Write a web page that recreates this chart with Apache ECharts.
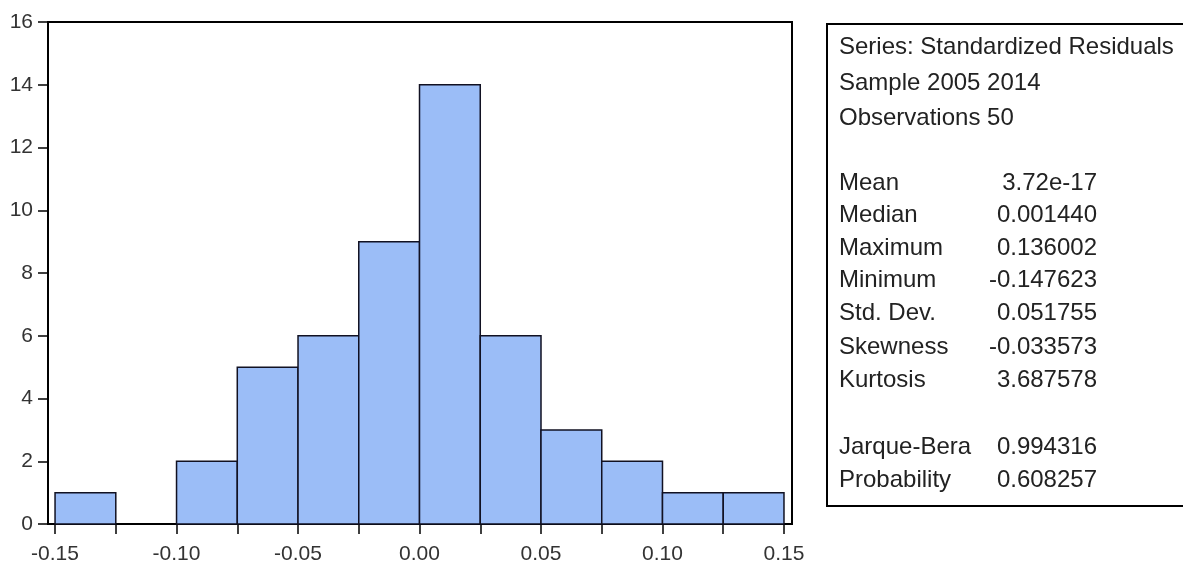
<!DOCTYPE html>
<html>
<head>
<meta charset="utf-8">
<script src="https://cdn.jsdelivr.net/npm/echarts@6/dist/echarts.min.js"></script>
<style>html,body{margin:0;padding:0;background:#fff;}#c{width:1183px;height:568px;}</style>
</head>
<body>
<div id="c"></div>
<script>
// Histogram bins (left edge, right edge) and counts
var binStarts = [-0.15, -0.125, -0.10, -0.075, -0.05, -0.025, 0.0, 0.025, 0.05, 0.075, 0.10, 0.125];
var binEnds   = [-0.125, -0.10, -0.075, -0.05, -0.025, 0.0, 0.025, 0.05, 0.075, 0.10, 0.125, 0.15];
var counts    = [1, 0, 2, 5, 6, 9, 14, 6, 3, 2, 1, 1];
var xTickValues  = [-0.15, -0.125, -0.10, -0.075, -0.05, -0.025, 0.0, 0.025, 0.05, 0.075, 0.10, 0.125, 0.15];
var xLabelValues = [-0.15, -0.10, -0.05, 0.0, 0.05, 0.10, 0.15];
var yTickValues  = [0, 2, 4, 6, 8, 10, 12, 14, 16];
var headerLines  = ["Series: Standardized Residuals", "Sample 2005 2014", "Observations 50"];
var statLabels   = ["Mean", "Median", "Maximum", "Minimum", "Std. Dev.", "Skewness", "Kurtosis"];
var statValues   = ["3.72e-17", "0.001440", "0.136002", "-0.147623", "0.051755", "-0.033573", "3.687578"];
var testLabels   = ["Jarque-Bera", "Probability"];
var testValues   = ["0.994316", "0.608257"];

var FONT = '"Liberation Sans", Arial, sans-serif';
var data = binStarts.map(function (s, i) { return [s, binEnds[i], counts[i]]; });

var graphics = [];
graphics.push({
  type: 'rect', left: 826, top: 23, z: 1,
  shape: { width: 380, height: 482 },
  style: { fill: '#fff', stroke: '#000', lineWidth: 2 }
});
function addText(txt, x, y, align) {
  graphics.push({
    type: 'text', x: x, y: y, z: 2,
    style: { text: txt, fill: '#222', font: '24px ' + FONT, textAlign: align, textVerticalAlign: 'middle' }
  });
}
var headerY = [47, 83, 118];
headerLines.forEach(function (t, i) { addText(t, 839, headerY[i], 'left'); });
var statY = [183, 215, 248, 280, 313, 347, 380];
statLabels.forEach(function (t, i) { addText(t, 839, statY[i], 'left'); addText(statValues[i], 1097, statY[i], 'right'); });
var testY = [447, 480];
testLabels.forEach(function (t, i) { addText(t, 839, testY[i], 'left'); addText(testValues[i], 1097, testY[i], 'right'); });

var chart = echarts.init(document.getElementById('c'), null, { renderer: 'canvas' });
chart.setOption({
  animation: false,
  backgroundColor: '#fff',
  grid: { left: 48, right: 391, top: 22, bottom: 44, show: true, borderColor: '#000', borderWidth: 2, backgroundColor: 'transparent' },
  xAxis: {
    type: 'value', min: -0.1529, max: 0.1533, position: 'bottom',
    axisLine: { show: false, onZero: false },
    splitLine: { show: false },
    axisTick: { show: true, inside: false, length: 10, customValues: xTickValues, lineStyle: { color: '#000', width: 1.5 } },
    axisLabel: {
      customValues: xLabelValues, margin: 20,
      fontFamily: FONT, fontSize: 21, color: '#333',
      formatter: function (v) { return v.toFixed(2); }
    }
  },
  yAxis: {
    type: 'value', min: 0, max: 16, position: 'left',
    axisLine: { show: false, onZero: false },
    splitLine: { show: false },
    axisTick: { show: true, inside: false, length: 10, customValues: yTickValues, lineStyle: { color: '#000', width: 1.5 } },
    axisLabel: { customValues: yTickValues, margin: 15, fontFamily: FONT, fontSize: 21, color: '#333' }
  },
  series: [{
    type: 'custom',
    data: data,
    encode: { x: [0, 1], y: 2 },
    renderItem: function (params, api) {
      var c = api.value(2);
      if (!c) return null;
      var p0 = api.coord([api.value(0), c]);
      var p1 = api.coord([api.value(1), 0]);
      return {
        type: 'rect',
        shape: { x: p0[0], y: p0[1], width: p1[0] - p0[0], height: p1[1] - p0[1] },
        style: { fill: '#9BBDF7', stroke: '#111122', lineWidth: 1.5 }
      };
    }
  }],
  graphic: graphics
});
</script>
</body>
</html>
